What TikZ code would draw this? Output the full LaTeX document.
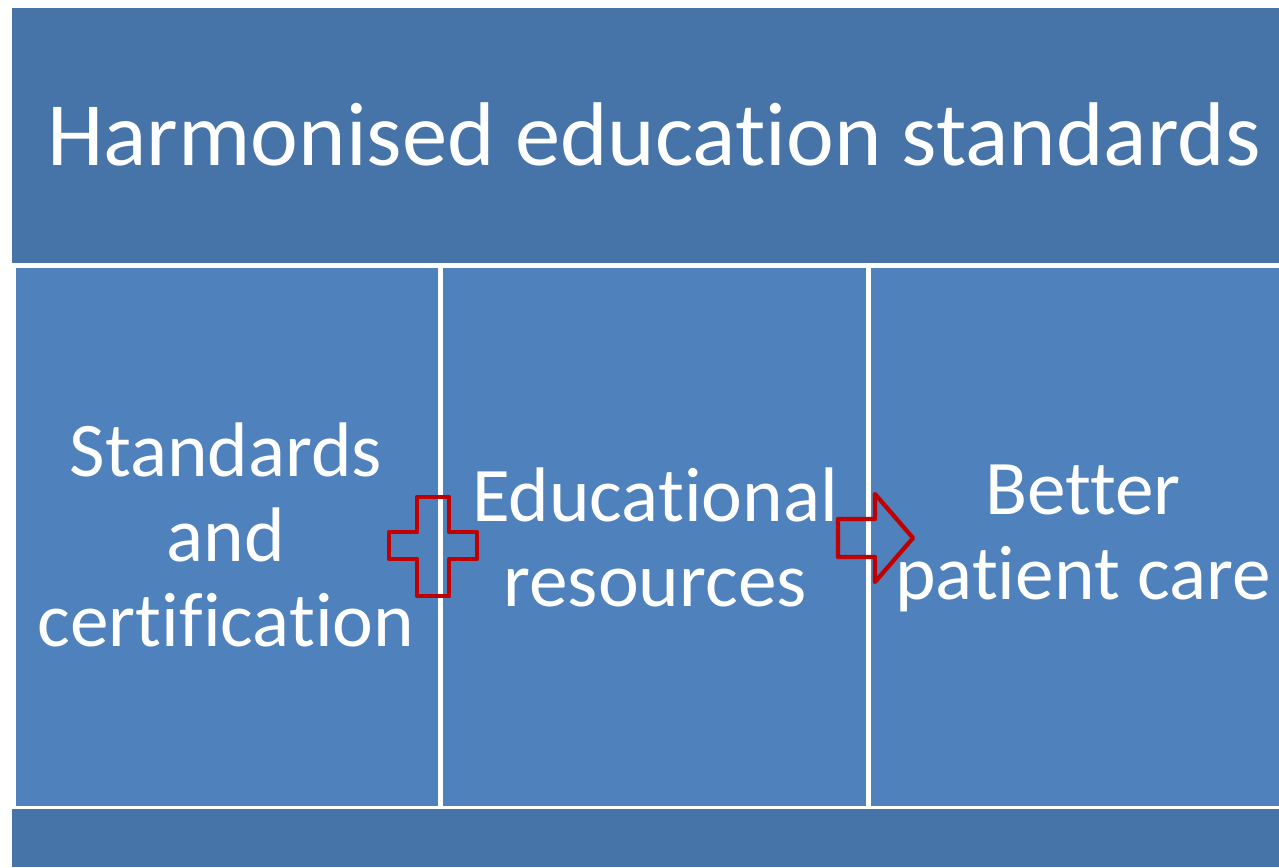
\documentclass[tikz,border=0pt]{standalone}
\usepackage{fontspec}
\setmainfont[Ligatures=NoCommon]{Carlito}
\usetikzlibrary{positioning}
\definecolor{barblue}{HTML}{4673A8}
\definecolor{cellblue}{HTML}{4F81BD}
\definecolor{signred}{HTML}{C00000}
\tikzstyle{bar} = [fill=barblue, inner sep=0pt, outer sep=0pt]
\tikzstyle{cell} = [fill=cellblue, inner sep=0pt, outer sep=0pt, minimum height=10.76cm]
\tikzstyle{celltext} = [text=white, align=center, inner sep=0pt, font=\fontsize{44}{48.4}\selectfont]
\tikzstyle{sign} = [draw=signred, line width=0.085cm, line join=round]

\begin{document}
\begin{tikzpicture}[x=0.02cm, y=-0.02cm]
        \useasboundingbox (0,0) rectangle (1279,867);

        %bars
        \node at (645.5,135.5) [bar, minimum width=25.34cm, minimum height=5.1cm] (top) {};
        \node at (645.5,838) [bar, minimum width=25.34cm, minimum height=1.16cm] (bottom) {};
        \node at (654,134) [text=white, inner sep=0pt, font=\fontsize{51.5}{61}\selectfont] (title) {Harmonised education standards};

        %cells
        \node at (227,537) [cell, minimum width=8.44cm] (left) {};
        \node at (654.5,537) [cell, minimum width=8.46cm] (middle) {};
        \node at (1075,537) [cell, minimum width=8.16cm] (right) {};

        \node at (226,535) [celltext] (standards) {Standards\\and\\certification};
        \node at (655,537) [celltext] (resources) {Educational\\resources};
        \node at (1083,538) [celltext] (care) {Better\\patient care};

        %plus and arrow
        \draw [sign] (417,497) -- (449,497) -- (449,532) -- (477,532) -- (477,559) -- (449,559) -- (449,596) -- (417,596) -- (417,559) -- (389,559) -- (389,532) -- (417,532) -- cycle;
        \draw [sign] (838,519) -- (875,519) -- (875,494) -- (913,538) -- (875,582) -- (875,557) -- (838,557) -- cycle;

    \end{tikzpicture}
\end{document}
